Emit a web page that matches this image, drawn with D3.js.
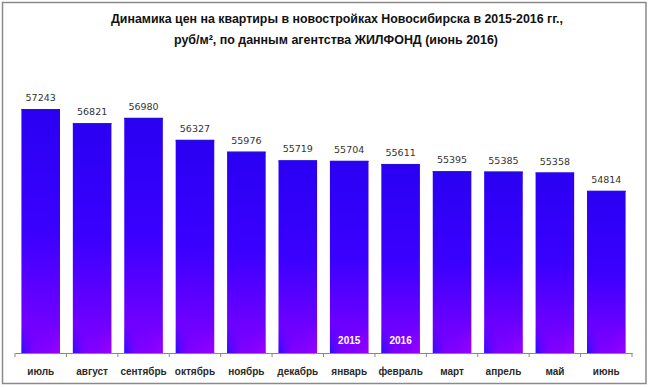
<!DOCTYPE html>
<html><head><meta charset="utf-8">
<script src="https://cdn.jsdelivr.net/npm/d3@7"></script>
<style>body{margin:0;background:#fff}svg{display:block}</style>
</head><body>
<script>
const months = ["июль","август","сентябрь","октябрь","ноябрь","декабрь","январь","февраль","март","апрель","май","июнь"];
const prices = [57243,56821,56980,56327,55976,55719,55704,55611,55395,55385,55358,54814];
const yearMarks = [{month:"январь", label:"2015"},{month:"февраль", label:"2016"}];
const titleLines = ["Динамика цен на квартиры в новостройках Новосибирска в 2015-2016 гг.,", "руб/м², по данным агентства ЖИЛФОНД (июнь 2016)"];

const W=649,H=387;
const svg=d3.select("body").append("svg").attr("width",W).attr("height",H);
const defs=svg.append("defs");
const g1=defs.append("linearGradient").attr("id","barGrad").attr("x1",0).attr("y1",0).attr("x2",0).attr("y2",1);
g1.append("stop").attr("offset","0").attr("stop-color","#2a00f2");
g1.append("stop").attr("offset","0.5").attr("stop-color","#3a00ff");
g1.append("stop").attr("offset","1").attr("stop-color","#8200ff");
const g2=defs.append("linearGradient").attr("id","botGrad").attr("x1",0).attr("y1",0).attr("x2",1).attr("y2",0);
g2.append("stop").attr("offset","0").attr("stop-color","#1a10ff").attr("stop-opacity",0.9);
g2.append("stop").attr("offset","0.45").attr("stop-color","#8000ff").attr("stop-opacity",0);
g2.append("stop").attr("offset","1").attr("stop-color","#b000ff").attr("stop-opacity",0.6);
const g3=defs.append("linearGradient").attr("id","fadeMask").attr("x1",0).attr("y1",0).attr("x2",0).attr("y2",1);
g3.append("stop").attr("offset","0").attr("stop-color","#fff").attr("stop-opacity",0);
g3.append("stop").attr("offset","1").attr("stop-color","#fff").attr("stop-opacity",1);
defs.append("mask").attr("id","m1").attr("maskContentUnits","objectBoundingBox")
  .append("rect").attr("width",1).attr("height",1).attr("fill","url(#fadeMask)");

// frame
svg.append("rect").attr("x",2.5).attr("y",2.5).attr("width",643.5).attr("height",381)
  .attr("fill","#fff").attr("stroke","#8a8a8a").attr("stroke-width",1.5);

// title
svg.append("g").selectAll("text").data(titleLines).join("text")
  .attr("x",(d,i)=>i===0?337:336).attr("y",(d,i)=>23+i*21).attr("text-anchor","middle")
  .attr("font-family","Liberation Sans, Arial, sans-serif").attr("font-weight","bold")
  .attr("font-size",13).attr("fill","#111")
  .attr("textLength",(d,i)=>i===0?452:324).attr("lengthAdjust","spacingAndGlyphs")
  .text(d=>d);

const x=d3.scaleBand().domain(months).range([15,632]).paddingInner(0.25).paddingOuter(0.125);
const y=d3.scaleLinear().domain([50000,58000]).range([353,83.5]);

const bars=svg.append("g");
bars.selectAll("rect.bar").data(months).join("rect").attr("class","bar")
  .attr("x",d=>x(d)).attr("width",x.bandwidth())
  .attr("y",(d,i)=>y(prices[i])).attr("height",(d,i)=>y.range()[0]-y(prices[i]))
  .attr("fill","url(#barGrad)");
bars.selectAll("rect.bot").data(months).join("rect").attr("class","bot")
  .attr("x",d=>x(d)).attr("width",x.bandwidth())
  .attr("y",y.range()[0]-28).attr("height",28)
  .attr("fill","url(#botGrad)").attr("mask","url(#m1)");
bars.selectAll("rect.edge").data(months).join("rect").attr("class","edge")
  .attr("x",d=>x(d)).attr("width",x.bandwidth())
  .attr("y",(d,i)=>y(prices[i])).attr("height",1.2)
  .attr("fill","#2410d8");

// value labels
svg.append("g").selectAll("text").data(months).join("text")
  .attr("x",d=>x(d)+x.bandwidth()/2).attr("y",(d,i)=>y(prices[i])-8)
  .attr("text-anchor","middle").attr("font-family","DejaVu Sans, Verdana, sans-serif")
  .attr("font-size",9.5).attr("fill","#333").text((d,i)=>prices[i]);

// year marks
svg.append("g").selectAll("text").data(yearMarks).join("text")
  .attr("x",d=>x(d.month)+x.bandwidth()/2).attr("y",344)
  .attr("text-anchor","middle").attr("font-family","Liberation Sans, Arial, sans-serif")
  .attr("font-weight","bold").attr("font-size",10).attr("fill","#fff").text(d=>d.label);

// axis
const ax=svg.append("g").attr("transform","translate(0,353)")
  .call(d3.axisBottom(x).tickSize(0).tickPadding(15));
ax.select(".domain").attr("stroke","#888").attr("stroke-width",1);
ax.selectAll(".tick text").attr("font-family","Liberation Sans, Arial, sans-serif")
  .attr("font-weight","bold").attr("font-size",10).attr("fill","#2a2a2a");
const tickX=d3.range(months.length+1).map(i=>x.range()[0]+i*x.step());
ax.selectAll("line.bt").data(tickX).join("line").attr("class","bt")
  .attr("x1",d=>d).attr("x2",d=>d).attr("y1",0).attr("y2",4).attr("stroke","#888");
</script>
</body></html>
